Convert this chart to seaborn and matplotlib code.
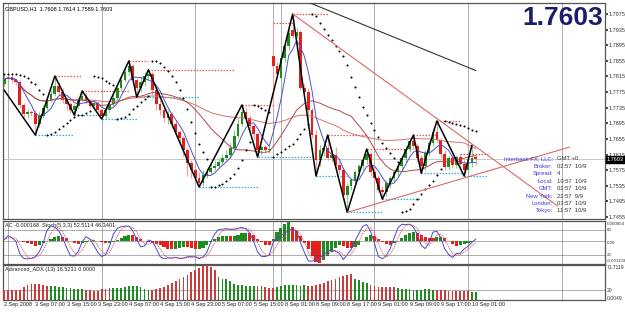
import numpy as np
import pandas as pd
import matplotlib
matplotlib.use("Agg")
import matplotlib.pyplot as plt
import seaborn as sns

sns.set_theme(style="white")
plt.rcParams['font.family'] = ['Liberation Sans', 'DejaVu Sans']

# ---------------- data (GBPUSD H1) ----------------
opens = [1.7796,1.7808,1.7814,1.7806,1.7801,1.7742,1.7719,1.7724,1.7721,1.7693,
         1.7713,1.7734,1.7755,1.7770,1.7791,1.7775,1.7755,1.7744,1.7729,1.7739,
         1.7755,1.7765,1.7752,1.7739,1.7747,1.7729,1.7713,1.7729,1.7744,1.7760,
         1.7785,1.7806,1.7826,1.7842,1.7806,1.7785,1.7801,1.7816,1.7821,1.7780,
         1.7744,1.7729,1.7708,1.7719,1.7693,1.7673,1.7657,1.7626,1.7593,1.7575,
         1.7555,1.7542,1.7562,1.7570,1.7580,1.7585,1.7596,1.7606,1.7614,1.7631,
         1.7662,1.7693,1.7724,1.7708,1.7688,1.7667,1.7626,1.7634,1.7626,1.7867,
         1.7842,1.7811,1.7862,1.7893,1.7934,1.7919,1.7929,1.7785,1.7775,1.7729,
         1.7665,1.7601,1.7626,1.7631,1.7606,1.7614,1.7588,1.7575,1.7511,1.7534,
         1.7550,1.7570,1.7585,1.7601,1.7616,1.7570,1.7555,1.7524,1.7519,1.7542,
         1.7555,1.7570,1.7585,1.7606,1.7629,1.7649,1.7637,1.7606,1.7585,1.7619,
         1.7644,1.7673,1.7652,1.7616,1.7583,1.7606,1.7588,1.7609,1.7591,1.7575,
         1.7596,1.7608]
highs = [1.7821,1.7819,1.7816,1.7811,1.7806,1.7747,1.7732,1.7729,1.7729,1.7724,
         1.7742,1.7765,1.7780,1.7816,1.7801,1.7785,1.7762,1.7752,1.7744,1.7762,
         1.7778,1.7773,1.7757,1.7755,1.7752,1.7737,1.7739,1.7755,1.7770,1.7796,
         1.7816,1.7837,1.7855,1.7847,1.7811,1.7816,1.7826,1.7832,1.7826,1.7785,
         1.7755,1.7734,1.7729,1.7724,1.7703,1.7678,1.7662,1.7631,1.7601,1.7580,
         1.7570,1.7575,1.7580,1.7591,1.7601,1.7606,1.7616,1.7626,1.7644,1.7678,
         1.7708,1.7742,1.7734,1.7716,1.7693,1.7673,1.7639,1.7639,1.7637,1.7952,
         1.7852,1.7873,1.7898,1.7934,1.7975,1.7939,1.7934,1.7796,1.7785,1.7734,
         1.7678,1.7639,1.7642,1.7665,1.7626,1.7634,1.7601,1.7580,1.7542,1.7555,
         1.7575,1.7591,1.7606,1.7629,1.7621,1.7580,1.7562,1.7534,1.7550,1.7560,
         1.7575,1.7591,1.7611,1.7637,1.7655,1.7665,1.7644,1.7614,1.7626,1.7652,
         1.7683,1.7701,1.7657,1.7626,1.7611,1.7614,1.7614,1.7616,1.7601,1.7606,
         1.7639,1.7614]
lows = [1.7791,1.7803,1.7798,1.7793,1.7734,1.7711,1.7708,1.7713,1.7665,1.7685,
        1.7708,1.7729,1.7750,1.7765,1.7767,1.7747,1.7729,1.7721,1.7716,1.7734,
        1.7752,1.7744,1.7734,1.7732,1.7724,1.7706,1.7708,1.7724,1.7739,1.7755,
        1.7780,1.7801,1.7819,1.7796,1.7762,1.7775,1.7791,1.7806,1.7767,1.7729,
        1.7716,1.7698,1.7693,1.7683,1.7662,1.7647,1.7611,1.7560,1.7555,1.7539,
        1.7532,1.7534,1.7555,1.7565,1.7575,1.7580,1.7591,1.7601,1.7606,1.7626,
        1.7657,1.7688,1.7698,1.7678,1.7652,1.7609,1.7614,1.7621,1.7619,1.7729,
        1.7811,1.7780,1.7852,1.7883,1.7914,1.7914,1.7780,1.7770,1.7703,1.7657,
        1.7560,1.7585,1.7611,1.7601,1.7596,1.7580,1.7565,1.7498,1.7467,1.7524,
        1.7539,1.7560,1.7575,1.7591,1.7560,1.7544,1.7519,1.7501,1.7509,1.7529,
        1.7544,1.7560,1.7575,1.7596,1.7621,1.7631,1.7596,1.7567,1.7575,1.7611,
        1.7637,1.7647,1.7606,1.7575,1.7575,1.7580,1.7580,1.7580,1.7560,1.7570,
        1.7583,1.7589]
closes = [1.7808,1.7814,1.7806,1.7801,1.7742,1.7719,1.7724,1.7721,1.7693,1.7713,
          1.7734,1.7755,1.7770,1.7791,1.7775,1.7755,1.7744,1.7729,1.7739,1.7755,
          1.7765,1.7752,1.7739,1.7747,1.7729,1.7713,1.7729,1.7744,1.7760,1.7785,
          1.7806,1.7826,1.7842,1.7806,1.7785,1.7801,1.7816,1.7821,1.7780,1.7744,
          1.7729,1.7708,1.7719,1.7693,1.7673,1.7657,1.7626,1.7593,1.7575,1.7555,
          1.7542,1.7562,1.7570,1.7580,1.7585,1.7596,1.7606,1.7614,1.7631,1.7662,
          1.7693,1.7724,1.7708,1.7688,1.7667,1.7626,1.7634,1.7626,1.7629,1.7842,
          1.7821,1.7862,1.7893,1.7926,1.7919,1.7929,1.7785,1.7775,1.7729,1.7665,
          1.7601,1.7626,1.7631,1.7606,1.7614,1.7588,1.7575,1.7511,1.7534,1.7550,
          1.7570,1.7585,1.7601,1.7616,1.7570,1.7555,1.7524,1.7519,1.7542,1.7555,
          1.7570,1.7585,1.7606,1.7629,1.7649,1.7637,1.7606,1.7585,1.7619,1.7644,
          1.7673,1.7652,1.7616,1.7583,1.7606,1.7588,1.7609,1.7591,1.7575,1.7596,
          1.7606,1.7603]

# Advanced_ADX(13) histogram, read bar by bar; r = -DI dominant, g = +DI dominant
adx_values = [20, 21, 21, 20, 20,
              26, 30, 32, 33, 32, 31, 29,
              29, 28, 27, 26, 25,
              24, 23, 23, 22,
              21, 20, 19, 19,
              22, 23, 24, 24, 25, 25, 26,
              28, 29, 28, 27,
              23, 21,
              21, 22, 24, 27, 30, 34, 38, 42, 47, 52, 57, 61, 65, 69, 71.5,
              68, 62,
              47, 44, 42, 39,
              33, 31, 30, 29, 28,
              29, 28, 28,
              26, 25, 24,
              27, 29, 30, 31, 31, 30, 29, 30,
              28, 28, 30, 32, 35, 38, 41, 44, 47, 50, 52, 54,
              44, 40, 37, 34,
              30, 28, 27, 27, 27, 26, 26,
              24, 23, 22, 22, 21, 21, 21, 22, 22, 21,
              21, 21, 20,
              19, 19, 19, 18, 18, 18,
              17, 16.5231]
adx_dir = ("rrrrr" "rrrrrrr" "ggggg" "gggg" "rrrr" "rrrgggg" "gggg" "gg"
           "rrrrrrrrrrrrrrr" "rr" "gggg" "ggggg" "grg" "rrr" "gggggggg"
           "rrrrrrrrrrrr" "gggg" "rrrrrrr" "gggggggggg" "rrr" "rrrrrr" "gg")

tick_pos = [0, 8, 16, 24, 32, 40, 48, 56, 64, 72, 80, 88, 96, 104, 112, 120]
tick_labels = ["2 Sep 2008", "3 Sep 07:00", "3 Sep 15:00", "3 Sep 23:00",
               "4 Sep 07:00", "4 Sep 15:00", "4 Sep 23:00", "5 Sep 07:00",
               "5 Sep 15:00", "8 Sep 01:00", "8 Sep 09:00", "8 Sep 17:00",
               "9 Sep 01:00", "9 Sep 09:00", "9 Sep 17:00", "10 Sep 01:00"]
price_ticks = [1.7455, 1.7495, 1.7535, 1.7575, 1.7615, 1.7655, 1.7695,
               1.7735, 1.7775, 1.7815, 1.7855, 1.7895, 1.7935, 1.7975]
day_separators = [1, 25, 49, 69, 71, 95, 119, 143]

zz_idx = [0, 8, 13, 18, 20, 25, 32, 34, 37, 50, 61, 65, 74, 80, 83, 88, 93,
          97, 105, 107, 111, 118, 120]
zz_price = [1.7780, 1.7665, 1.7816, 1.7716, 1.7778, 1.7706, 1.7855, 1.7762,
            1.7832, 1.7532, 1.7742, 1.7609, 1.7975, 1.7560, 1.7665, 1.7467,
            1.7629, 1.7501, 1.7665, 1.7567, 1.7701, 1.7560, 1.7639]

trend_down_idx, trend_down_price = [74, 142], [1.7975, 1.7483]
trend_up_idx, trend_up_price = [88, 145], [1.7467, 1.7634]
trend_black_idx, trend_black_price = [78, 121], [1.8005, 1.7830]

last_price = 1.7603
info_labels = ["Interbank FX, LLC:", "Broker:", "Spread:", "Local:", "GMT:",
               "New York:", "London:", "Tokyo:"]
info_values = ["GMT +0", "02:57  10/9", "4", "10:57  10/9", "02:57  10/9",
               "22:57  9/9", "03:57  10/9", "11:57  10/9"]

# ---------------- indicators computed from the bars ----------------
df = pd.DataFrame({"o": opens, "h": highs, "l": lows, "c": closes})
n = len(df)
df["i"] = np.arange(n)
df["ma5"] = df.c.rolling(5, min_periods=1).mean()
df["ma21"] = df.c.rolling(21, min_periods=1).mean()
df["ma50"] = df.c.rolling(50, min_periods=1).mean()
df["adx"] = adx_values
df["adx_up"] = [ch == "g" for ch in adx_dir]

def psar(h, l, af0=0.02, afmax=0.2):
    sar = np.zeros(len(h)); bull = False; af = af0; ep = l[0]; sar[0] = h[0]
    for k in range(1, len(h)):
        s = sar[k-1] + af * (ep - sar[k-1])
        if bull:
            s = min(s, l[k-1], l[max(k-2, 0)])
            if l[k] < s:
                bull, s, ep, af = False, ep, l[k], af0
            elif h[k] > ep:
                ep = h[k]; af = min(af + af0, afmax)
        else:
            s = max(s, h[k-1], h[max(k-2, 0)])
            if h[k] > s:
                bull, s, ep, af = True, ep, h[k], af0
            elif l[k] < ep:
                ep = l[k]; af = min(af + af0, afmax)
        sar[k] = s
    return sar

df["sar"] = psar(df.h.values, df.l.values)

# stochastic 5,3,3
ll = df.l.rolling(5, min_periods=1).min()
hh = df.h.rolling(5, min_periods=1).max()
num = (df.c - ll).rolling(3, min_periods=1).sum()
den = (hh - ll).rolling(3, min_periods=1).sum()
df["k"] = 100 * num / den
df["d"] = df.k.rolling(3, min_periods=1).mean()

# accelerator oscillator
med = (df.h + df.l) / 2
ao = med.rolling(5, min_periods=1).mean() - med.rolling(34, min_periods=1).mean()
df["ac"] = ao - ao.rolling(5, min_periods=1).mean()

# ---------------- drawing ----------------
GREEN, RED = "#1f8a1f", "#e3201b"
fig = plt.figure(figsize=(6.25, 3.12), dpi=100)
fig.patch.set_facecolor("white")
ax = fig.add_axes([0.0048, 0.2981, 0.963, 0.6923])
ax2 = fig.add_axes([0.0048, 0.1538, 0.963, 0.1378], sharex=ax)
ax3 = fig.add_axes([0.0048, 0.0385, 0.963, 0.1122], sharex=ax)

for a in (ax, ax2, ax3):
    a.set_facecolor("white")
    for sp in a.spines.values():
        sp.set_color("#555555"); sp.set_linewidth(0.9)
    for s in day_separators:
        a.axvline(s, color="#444444", ls=(0, (1.2, 1.2)), lw=0.6, zorder=1)

x = df.i.values
bull = df.c.values >= df.o.values

# current price line
ax.axhline(last_price, color="#c8c8c8", lw=0.7, zorder=1)

# candles
ax.vlines(x, df.l, df.h, colors=np.where(bull, "#8cc98c", "#f0a0a0"), lw=0.8, zorder=2)
body = np.maximum((df.c - df.o).abs().values, 0.00008)
ax.bar(x, body, bottom=np.minimum(df.o, df.c), width=0.7,
       color=np.where(bull, GREEN, RED), linewidth=0, zorder=3)

# fractal support / resistance levels
hs, ls_ = df.h.values, df.l.values
fr_up = [k for k in range(2, n-2) if hs[k] > max(hs[k-2], hs[k-1], hs[k+1], hs[k+2])]
fr_dn = [k for k in range(2, n-2) if ls_[k] < min(ls_[k-2], ls_[k-1], ls_[k+1], ls_[k+2])]
for lst, arr, col in ((fr_up, hs, "#e8584f"), (fr_dn, ls_, "#27b4d8")):
    for j, k in enumerate(lst):
        end = lst[j+1] if j + 1 < len(lst) else n + 2
        end = min(end, k + 22)
        ax.hlines(arr[k], k, end, colors=col, linestyles=(0, (1.2, 1.2)), lw=0.9, zorder=2)

# moving averages
sns.lineplot(data=df, x="i", y="ma50", ax=ax, color="#d87070", lw=0.7, zorder=4)
sns.lineplot(data=df, x="i", y="ma21", ax=ax, color="#b04848", lw=0.7, zorder=4)
sns.lineplot(data=df, x="i", y="ma5", ax=ax, color="#5050c8", lw=0.7, zorder=4)

# parabolic SAR
sns.scatterplot(data=df, x="i", y="sar", ax=ax, color="black", s=2.2,
                linewidth=0, zorder=5)

# zigzag and trendlines
sns.lineplot(x=zz_idx, y=zz_price, ax=ax, color="black", lw=1.1, zorder=6,
             estimator=None, sort=False)
sns.lineplot(x=trend_down_idx, y=trend_down_price, ax=ax, color="#d96a6a", lw=0.8, zorder=6)
sns.lineplot(x=trend_up_idx, y=trend_up_price, ax=ax, color="#d96a6a", lw=0.8, zorder=6)
sns.lineplot(x=trend_black_idx, y=trend_black_price, ax=ax, color="#333333", lw=0.8, zorder=6)

ax.set_xlim(-0.3, 154.1)
ax.set_ylim(1.7450, 1.8003)
ax.yaxis.tick_right()
ax.set_yticks(price_ticks)
ax.set_yticklabels([f"{p:.4f}" for p in price_ticks])
for a in (ax, ax2, ax3):
    a.tick_params(axis="y", labelsize=4, length=2, pad=1, colors="#333333")
    a.tick_params(axis="x", bottom=False, labelbottom=False)
    a.set_xlabel(""); a.set_ylabel("")

ax.text(1.003, last_price, f"{last_price:.4f}", transform=ax.get_yaxis_transform(),
        color="white", fontsize=4, va="center", ha="left",
        bbox=dict(fc="black", ec="black", pad=0.6), zorder=10, clip_on=False)
ax.text(0.004, 0.985, "GBPUSD,H1  1.7608 1.7614 1.7589 1.7603", transform=ax.transAxes,
        fontsize=4, va="top", ha="left", color="black")
ax.text(0.997, 0.985, "1.7603", transform=ax.transAxes, fontsize=19,
        fontweight="bold", color="#1c1c6b", va="top", ha="right")

for k, (lab, val) in enumerate(zip(info_labels, info_values)):
    yy = 1 - (159 + k * 7.4) / 312
    fig.text(553 / 625, yy, lab, fontsize=4.2, color="#3b3bd6", ha="right", va="center")
    fig.text(557 / 625, yy, val, fontsize=4.2, color="#333333", ha="left", va="center")

# AC + Stochastic panel
ax2.bar(x, df.ac, width=0.8, color=np.where(df.ac.diff().fillna(0) >= 0, GREEN, RED),
        linewidth=0, zorder=3)
ac_lo, ac_hi = df.ac.min() * 1.05, df.ac.max() * 1.05
ax2.set_ylim(ac_lo, ac_hi)
ax2.axhline(0, color="#444444", ls=(0, (1.2, 1.2)), lw=0.6)
ax2.set_yticks([])
st = ax2.twinx()
st.set_ylim(-2, 102)
sns.lineplot(data=df, x="i", y="k", ax=st, color="#4a4ad0", lw=0.7, zorder=4)
sns.lineplot(data=df, x="i", y="d", ax=st, color="#e04848", lw=0.6, ls=(0, (1.5, 1)), zorder=4)
st.axhline(80, color="#444444", ls=(0, (1.2, 1.2)), lw=0.6)
st.axhline(20, color="#444444", ls=(0, (1.2, 1.2)), lw=0.6)
st.set_yticks([]); st.set_ylabel("")
for sp in st.spines.values():
    sp.set_visible(False)
ax2.text(0.004, 0.95, "AC -0.000168  Stoch(5,3,3) 52.5114 46.3401", transform=ax2.transAxes,
         fontsize=4, va="top", ha="left")
for lab, yf in (("0.000854", 0.93), ("80", 0.78), ("0.00", 0.50), ("20", 0.22), ("-0.001159", 0.08)):
    ax2.text(1.003, yf, lab, transform=ax2.transAxes, fontsize=3.2, va="center", ha="left",
             color="#333333")

# Advanced ADX panel
ax3.bar(x, df.adx, width=0.45, color=np.where(df.adx_up, GREEN, "#cc3b3b"),
        linewidth=0, zorder=3)
ax3.set_ylim(0, 71.7119)
ax3.axhline(20, color="#444444", ls=(0, (1.2, 1.2)), lw=0.6)
ax3.set_yticks([])
ax3.text(0.004, 0.95, "Advanced_ADX (13) 16.5231 0.0000", transform=ax3.transAxes,
         fontsize=4, va="top", ha="left")
for lab, yf in (("71.7119", 0.93), ("20", 0.28), ("0.0049", 0.04)):
    ax3.text(1.003, yf, lab, transform=ax3.transAxes, fontsize=3.6, va="center", ha="left",
             color="#333333")
for p, lab in zip(tick_pos, tick_labels):
    ax3.text(p, -0.06, lab, transform=ax3.get_xaxis_transform(), fontsize=4,
             va="top", ha="left", color="#222222", clip_on=False)

fig.savefig("out.png", dpi=100, facecolor="white")
